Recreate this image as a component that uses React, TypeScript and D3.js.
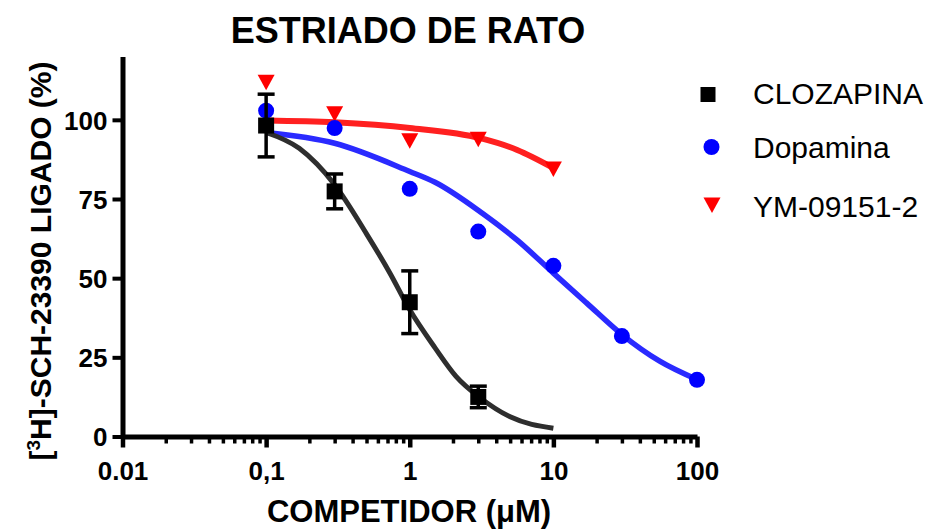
import React, { useRef, useEffect } from 'react';
import * as d3 from 'd3';

// measured points
const doses = [0.1, 0.3, 1, 3, 10, 30, 100];
const clozValues = [98.2, 77.4, 42.4, 12.5];
const clozErrors = [9.9, 5.5, 9.9, 3.4];
const dopaValues = [102.9, 97.4, 78.2, 64.7, 53.9, 31.7, 17.9];
const ymValues = [111.9, 101.9, 93.4, 93.9, 84.5];

// fitted curves
const clozCurveX = [0.1, 0.17, 0.3, 0.5, 0.73, 1, 1.5, 2.1, 3.1, 5, 10];
const clozCurveY = [96, 91, 79.5, 64, 51.5, 40, 28, 19, 12.2, 6.2, 2.6];
const dopaCurveX = [0.1, 0.3, 1, 1.5, 3.2, 5.6, 10, 17, 30, 55, 100];
const dopaCurveY = [96, 92.6, 83.7, 80.3, 70.5, 62, 51.6, 42.2, 32.2, 23.8, 18];
const ymCurveX = [0.1, 0.3, 1, 3.1, 5.6, 10];
const ymCurveY = [99.8, 99.2, 97.4, 94.2, 90.5, 84.8];

const xTickValues = [0.01, 0.1, 1, 10, 100];
const xTickLabels = ['0.01', '0,1', '1', '10', '100'];
const yTickValues = [0, 25, 50, 75, 100];
const seriesNames = ['CLOZAPINA', 'Dopamina', 'YM-09151-2'];

const FONT = '"Liberation Sans", Arial, sans-serif';

const App: React.FC = () => {
  const svgRef = useRef<SVGSVGElement>(null);

  useEffect(() => {
    if (!svgRef.current) return;
    const svg = d3.select(svgRef.current);
    svg.selectAll('*').remove();

    const x = d3.scaleLog().domain([0.01, 100]).range([122.5, 697]);
    const y = d3.scaleLinear().domain([0, 120]).range([436.5, 56.5]);

    // Title
    svg.append('text')
      .attr('x', 408).attr('y', 43)
      .attr('text-anchor', 'middle')
      .style('font-family', FONT).style('font-weight', 'bold').style('font-size', '36px')
      .text('ESTRIADO DE RATO');

    // x axis: minor ticks
    const minorTicks: number[] = [];
    [0.01, 0.1, 1, 10].forEach(d => {
      for (let k = 2; k <= 9; k++) minorTicks.push(d * k);
    });
    const xMinor = svg.append('g').attr('transform', 'translate(0,436.5)')
      .call(d3.axisBottom(x).tickValues(minorTicks).tickSize(7).tickSizeOuter(0).tickFormat(() => ''));
    xMinor.select('.domain').remove();
    xMinor.selectAll('line').attr('stroke', '#000').attr('stroke-width', 3.5);

    const xMajor = svg.append('g').attr('transform', 'translate(0,436.5)')
      .call(d3.axisBottom(x).tickValues(xTickValues).tickSize(11).tickSizeOuter(0)
        .tickFormat((d, i) => xTickLabels[i]));
    xMajor.select('.domain').attr('stroke', '#000').attr('stroke-width', 5);
    xMajor.selectAll('line').attr('stroke', '#000').attr('stroke-width', 4.5);
    xMajor.selectAll('text')
      .attr('y', 43.5).attr('dy', 0)
      .attr('fill', '#000')
      .style('font-family', FONT).style('font-weight', 'bold').style('font-size', '26px');

    // y axis
    const yAxis = svg.append('g').attr('transform', 'translate(122.5,0)')
      .call(d3.axisLeft(y).tickValues(yTickValues).tickSize(10).tickSizeOuter(0).tickPadding(5));
    yAxis.select('.domain').attr('stroke', '#000').attr('stroke-width', 5);
    yAxis.selectAll('line').attr('stroke', '#000').attr('stroke-width', 4);
    yAxis.selectAll('text')
      .attr('dy', '0.36em')
      .attr('fill', '#000')
      .style('font-family', FONT).style('font-weight', 'bold').style('font-size', '26px');

    // axis titles
    svg.append('text')
      .attr('x', 409).attr('y', 522)
      .attr('text-anchor', 'middle')
      .style('font-family', FONT).style('font-weight', 'bold').style('font-size', '31px')
      .text('COMPETIDOR (\u03bcM)');

    const yTitle = svg.append('text')
      .attr('transform', 'translate(51,261) rotate(-90)')
      .attr('text-anchor', 'middle')
      .style('font-family', FONT).style('font-weight', 'bold').style('font-size', '30px');
    yTitle.append('tspan').text('[');
    yTitle.append('tspan').attr('dy', -11).style('font-size', '19px').text('3');
    yTitle.append('tspan').attr('dy', 11).text('H]-SCH-23390 LIGADO (%)');

    // curves
    const line = d3.line<[number, number]>()
      .x(d => x(d[0])).y(d => y(d[1]))
      .curve(d3.curveMonotoneX);
    const curves: [number[], number[], string, number][] = [
      [ymCurveX, ymCurveY, '#ff2020', 6],
      [dopaCurveX, dopaCurveY, '#2a2aff', 5.5],
      [clozCurveX, clozCurveY, '#2e2e2e', 5],
    ];
    curves.forEach(([xs, ys, color, w]) => {
      svg.append('path')
        .attr('d', line(xs.map((v, i) => [v, ys[i]] as [number, number])) || '')
        .attr('fill', 'none')
        .attr('stroke', color)
        .attr('stroke-width', w);
    });

    // markers
    const tri = (cx: number, cy: number) =>
      `M${cx - 8.5},${cy - 7.5}L${cx + 8.5},${cy - 7.5}L${cx},${cy + 8}Z`;

    svg.append('g').selectAll('path')
      .data(ymValues)
      .enter().append('path')
      .attr('d', (d, i) => tri(x(doses[i]), y(d)))
      .attr('fill', '#ff0000');

    svg.append('g').selectAll('circle')
      .data(dopaValues)
      .enter().append('circle')
      .attr('cx', (d, i) => x(doses[i]))
      .attr('cy', d => y(d))
      .attr('r', 8)
      .attr('fill', '#0000ff');

    const cloz = svg.append('g');
    clozValues.forEach((v, i) => {
      const cx = x(doses[i]);
      const top = y(v + clozErrors[i]);
      const bot = y(v - clozErrors[i]);
      cloz.append('line').attr('x1', cx).attr('x2', cx).attr('y1', top).attr('y2', bot)
        .attr('stroke', '#000').attr('stroke-width', 3.5);
      [top, bot].forEach(yy => {
        cloz.append('line').attr('x1', cx - 8.5).attr('x2', cx + 8.5).attr('y1', yy).attr('y2', yy)
          .attr('stroke', '#000').attr('stroke-width', 3.5);
      });
      cloz.append('rect')
        .attr('x', cx - 8).attr('y', y(v) - 8)
        .attr('width', 16).attr('height', 16)
        .attr('fill', '#000');
    });

    // legend
    const leg = svg.append('g');
    leg.append('rect').attr('x', 700.5).attr('y', 87).attr('width', 15).attr('height', 15).attr('fill', '#000');
    leg.append('circle').attr('cx', 711.5).attr('cy', 147).attr('r', 8).attr('fill', '#0000ff');
    leg.append('path').attr('d', tri(712, 205)).attr('fill', '#ff0000');
    const legY = [103.5, 158, 216.5];
    seriesNames.forEach((name, i) => {
      leg.append('text')
        .attr('x', 753).attr('y', legY[i])
        .style('font-family', FONT).style('font-size', '30px')
        .attr('fill', '#000')
        .text(name);
    });
  }, []);

  return (
    <svg
      ref={svgRef}
      width={930}
      height={532}
      style={{ position: 'absolute', left: 0, top: 0, background: '#fff' }}
    />
  );
};

export default App;
